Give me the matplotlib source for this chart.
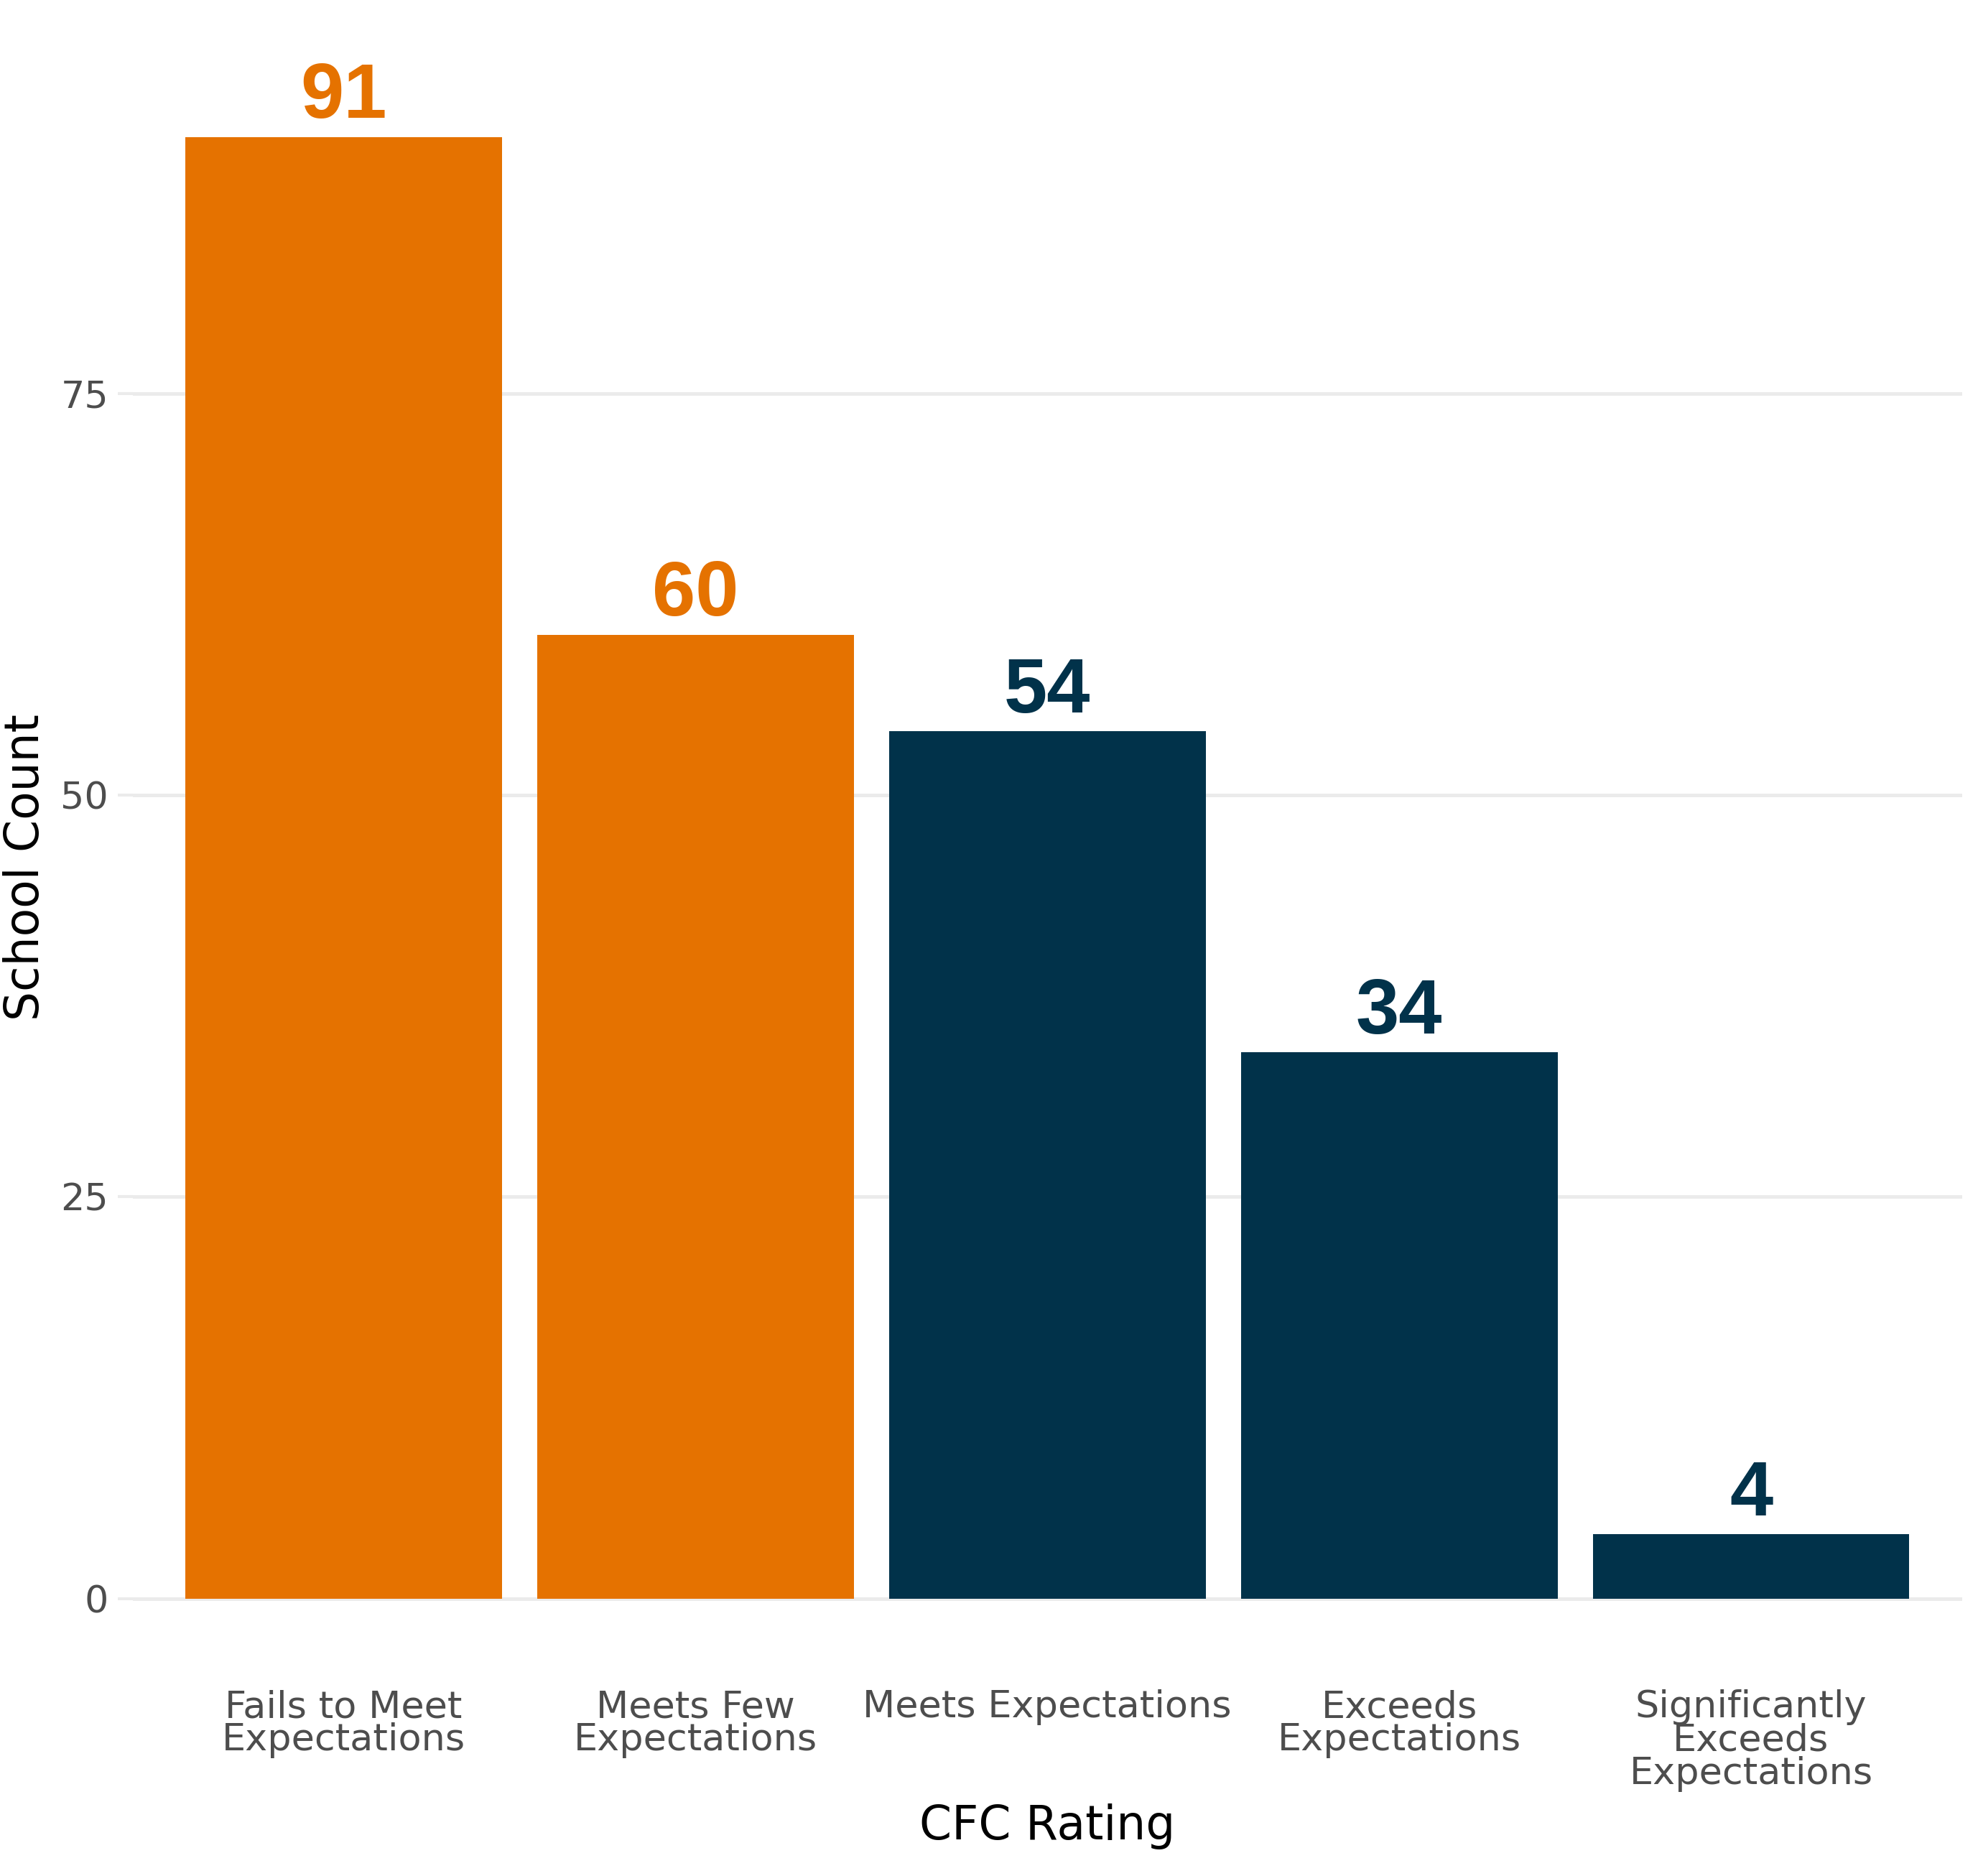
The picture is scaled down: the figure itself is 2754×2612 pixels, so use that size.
import matplotlib
matplotlib.use("Agg")
import matplotlib.pyplot as plt
import numpy as np

categories = ["Fails to Meet\nExpectations", "Meets Few\nExpectations", "Meets Expectations",
              "Exceeds\nExpectations", "Significantly\nExceeds\nExpectations"]
counts = [91, 60, 54, 34, 4]
groups = ["below", "below", "meets", "meets", "meets"]
group_colors = {"below": "#E57200", "meets": "#01324A"}

fig = plt.figure(figsize=(9.18, 8.7067), dpi=300)
ax = fig.add_axes([0.067, 0.109, 0.925, 0.857])

x = np.arange(len(categories))
cols = [group_colors[g] for g in groups]
ax.bar(x, counts, width=0.9, color=cols, zorder=2)
for xi, v, c in zip(x, counts, cols):
    ax.text(xi, v + 0.2, str(v), ha="center", va="bottom", color=c,
            fontsize=26, fontweight="bold", family="Liberation Sans")

ax.set_xlim(-0.6, 4.6)
ax.set_ylim(-4.55, 95.55)
ax.set_yticks([0, 25, 50, 75])
ax.set_xticks(x)
ax.set_xticklabels(categories, fontsize=12.6, color="#4D4D4D", linespacing=0.9)
ax.tick_params(axis="y", labelsize=12.6, labelcolor="#4D4D4D", color="#EBEBEB", length=5, width=1, pad=3)
ax.tick_params(axis="x", length=0, pad=6)
ax.yaxis.grid(True, color="#EBEBEB", linewidth=1.2, zorder=0)
for s in ax.spines.values():
    s.set_visible(False)
ax.set_xlabel("CFC Rating", fontsize=15.5, labelpad=4)
ax.set_ylabel("School Count", fontsize=15.5, labelpad=4)

fig.savefig("out.png", dpi=300)
